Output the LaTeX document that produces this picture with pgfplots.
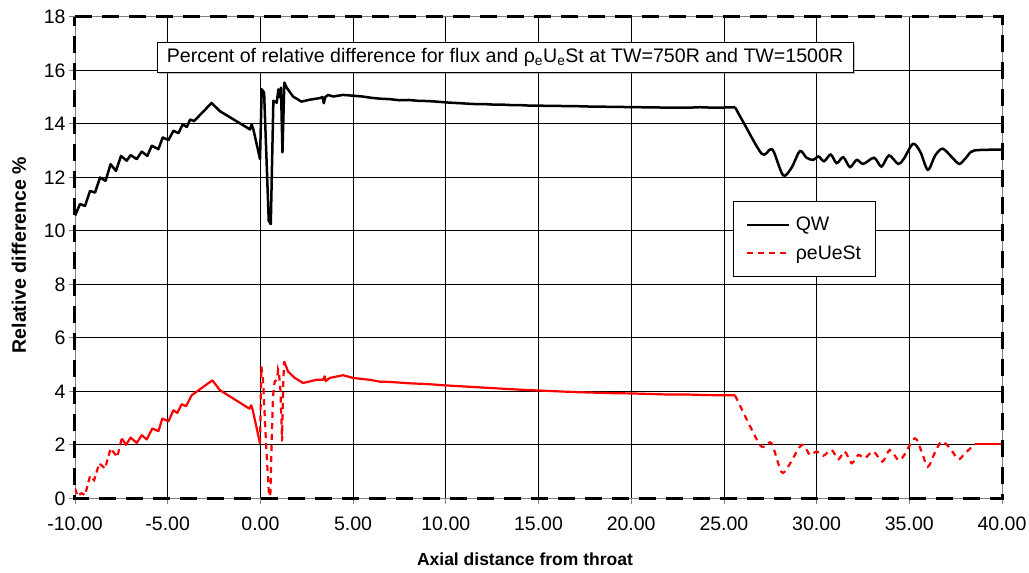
\documentclass[border=0pt]{standalone}
\usepackage{pgfplots}
\pgfplotsset{compat=1.18}
\usepackage{fontspec}
\setmainfont{Liberation Sans}
\usetikzlibrary{shadows}
\definecolor{qwred}{RGB}{255,0,0}
\begin{document}
\begin{tikzpicture}
\path[use as bounding box] (-75pt,-74.7pt) rectangle (954pt,498.3pt);
\begin{axis}[
  at={(0pt,0pt)}, anchor=south west, scale only axis,
  width=927pt, height=481.5pt,
  xmin=-10, xmax=40, ymin=0, ymax=18,
  xtick={-10,-5,0,5,10,15,20,25,30,35,40},
  xticklabels={-10.00,-5.00,0.00,5.00,10.00,15.00,20.00,25.00,30.00,35.00,40.00},
  ytick={0,2,4,6,8,10,12,14,16,18},
  yticklabels={0,2,4,6,8,10,12,14,16,18},
  grid=major, major grid style={black, line width=0.7pt},
  axis line style={gray, line width=0.7pt},
  tick style={gray, line width=0.7pt}, tick align=outside, major tick length=6pt,
  xtick pos=bottom, ytick pos=left,
  ticklabel style={font=\fontsize{19.5}{22}\selectfont},
  xticklabel style={yshift=-9pt},
  xlabel={\textbf{Axial distance from throat}},
  ylabel={\textbf{Relative difference \%}},
  xlabel style={at={(axis description cs:0.4854,-0.1261)}, anchor=center, font=\fontsize{17.5}{20}\selectfont},
  ylabel style={at={(axis description cs:-0.0604,0.505)}, anchor=center, font=\fontsize{19.5}{22}\selectfont},
  legend style={at={(rel axis cs:0.7098,0.6175)}, anchor=north west, draw=black, line width=0.7pt,
    font=\fontsize{19.5}{22}\selectfont, inner xsep=12pt, inner ysep=14pt, row sep=9pt},
  legend cell align=left,
  legend image code/.code={\draw[#1] (0pt,0pt) -- (42pt,0pt); \path (46pt,0pt);},
]
% QW part A
\addplot[black, line width=2.5pt, line join=round] coordinates {
(-10,10.56) (-9.73,11.0) (-9.46,10.93) (-9.19,11.49) (-8.92,11.43) (-8.65,11.99) (-8.35,11.87)
(-8.08,12.49) (-7.79,12.24) (-7.52,12.80) (-7.21,12.62) (-7.0,12.83) (-6.67,12.68) (-6.40,12.96)
(-6.10,12.80) (-5.86,13.18) (-5.50,13.05) (-5.27,13.49) (-4.96,13.39) (-4.69,13.74) (-4.42,13.65)
(-4.19,13.98) (-3.97,13.88) (-3.79,14.16) (-3.58,14.10) (-2.63,14.78) (-2.18,14.47) (-0.56,13.79)
(-0.47,13.98) (-0.38,13.79) (-0.02,12.68) (0.07,15.29) (0.20,15.17) (0.45,10.37) (0.56,10.25)
(0.70,14.86) (0.88,14.79) (0.97,15.29) (1.06,14.98) (1.11,15.35) (1.19,12.93) (1.29,15.54)
(1.42,15.35) (1.76,15.02) (2.21,14.83) (2.66,14.90) (3.2,14.96) (3.35,15.0) (3.42,14.77) (3.5,15.0)
(3.65,15.08) (3.92,15.02) (4.46,15.08) (5.0,15.05) (5.5,15.02) (6.0,14.97) (6.44,14.94) (7,14.92)
(7.5,14.88) (8,14.89) (8.5,14.86) (9,14.85) (9.5,14.83) (10,14.80) (10.5,14.78) (11,14.76)
(11.5,14.74) (12,14.74) (12.5,14.72) (13,14.72) (13.5,14.70) (14,14.70) (14.5,14.68) (15,14.68)
(15.5,14.67) (16,14.67) (16.5,14.66) (17,14.66) (17.5,14.65) (18,14.64) (18.5,14.64) (19,14.63)
(19.5,14.63) (20,14.62) (20.5,14.62) (21,14.61) (21.5,14.61) (22,14.60) (22.5,14.60) (23,14.60)
(23.7,14.62) (24.5,14.60) (25.6,14.62)
};
\addlegendentry{QW}
% QW part B
\addplot[black, line width=2.5pt, smooth, tension=0.5, forget plot] coordinates {
(25.6,14.62) (26.05,14.06) (27.04,12.88) (27.49,13.04) (27.7,12.94) (28.2,12.07) (28.65,12.36)
(29.1,12.98) (29.46,12.73) (29.82,12.65) (30.1,12.78) (30.4,12.6) (30.76,12.85) (31.08,12.53)
(31.44,12.75) (31.8,12.38) (32.16,12.65) (32.52,12.5) (33.1,12.73) (33.5,12.4) (33.9,12.82)
(34.4,12.5) (34.7,12.69) (35.2,13.25) (35.6,12.94) (36.0,12.28) (36.4,12.82) (36.8,13.07)
(37.3,12.75) (37.7,12.5) (38.06,12.73) (38.5,13.0) (40.0,13.03)
};
% red dashed spikes (legend)
\addplot[qwred, line width=2.2pt, dash pattern=on 6pt off 5pt] coordinates {
(-0.02,2.05) (0.05,4.93) (0.14,4.44) (0.32,1.82) (0.47,0.07) (0.54,0.2) (0.59,1.69) (0.68,3.81)
(0.77,4.37) (0.9,4.43) (0.95,4.81) (1.0,4.68) (1.08,4.06) (1.17,2.13) (1.22,4.06) (1.28,5.12)
};
\addlegendentry{ρeUeSt}
\addplot[qwred, line width=2.2pt, dash pattern=on 6pt off 4pt, forget plot] coordinates {
(-10,0.37) (-9.86,0.09) (-9.64,0.19) (-9.46,0.12) (-9.19,0.83) (-8.97,0.68) (-8.69,1.3)
(-8.38,1.12) (-8.08,1.86) (-7.72,1.55) (-7.48,2.24)
};
\addplot[qwred, line width=2.2pt, line join=round, forget plot] coordinates {
(-7.48,2.24) (-7.25,2.0) (-7.0,2.27) (-6.67,2.07) (-6.40,2.36) (-6.13,2.2) (-5.83,2.61) (-5.50,2.51)
(-5.29,2.98) (-4.96,2.88) (-4.69,3.29) (-4.48,3.19) (-4.24,3.52) (-4.01,3.44) (-3.71,3.85)
(-2.59,4.41) (-2.18,4.04) (-0.59,3.35) (-0.50,3.48) (-0.41,3.29) (-0.02,2.05)
};
\addplot[qwred, line width=2.2pt, line join=round, forget plot] coordinates {
(1.28,5.12) (1.49,4.74) (1.85,4.5) (2.3,4.31) (3.02,4.43) (3.38,4.43) (3.47,4.56) (3.52,4.38)
(3.74,4.5) (4.46,4.6) (5.0,4.5) (6.0,4.42) (6.44,4.36) (7,4.35) (8,4.3) (9,4.27) (10,4.22)
(11,4.18) (12,4.14) (13,4.1) (14,4.06) (15,4.03) (16,4.0) (17,3.97) (18,3.95) (19,3.93)
(20,3.92) (21,3.9) (22,3.88) (23,3.88) (24,3.86) (25,3.85) (25.6,3.85)
};
\addplot[qwred, line width=2.2pt, smooth, tension=0.5, dash pattern=on 6pt off 5pt, forget plot] coordinates {
(25.6,3.85) (26.85,2.1) (27.2,1.93) (27.57,2.06) (28.1,0.99) (28.46,1.18) (29.2,2.0) (29.64,1.62)
(30.0,1.75) (30.36,1.59) (30.8,1.81) (31.17,1.46) (31.52,1.75) (31.89,1.31) (32.25,1.62)
(32.6,1.5) (33.06,1.75) (33.55,1.37) (33.95,1.81) (34.4,1.43) (34.67,1.56) (35.3,2.24)
(35.66,1.75) (36.0,1.18) (36.38,1.71) (36.74,2.12) (37.2,1.87) (37.64,1.46) (38.0,1.68) (38.54,2.03)
};
\addplot[qwred, line width=2.2pt, forget plot] coordinates {(38.54,2.03) (40,2.03)};
% title box
\node[draw=black, line width=0.7pt, fill=white, drop shadow={shadow xshift=2pt, shadow yshift=-2pt, fill=gray},
  minimum width=696pt, minimum height=30pt, inner sep=0pt,
  font=\fontsize{19.6}{22}\selectfont]
  at (rel axis cs:0.4639,0.9165)
  {Percent of relative difference for flux and ρ\textsubscript{e}U\textsubscript{e}St at TW=750R and TW=1500R};
\end{axis}
% dashed frame
\draw[black, line width=3pt, dash pattern=on 17pt off 10pt]
  (0pt,481.5pt) -- (927pt,481.5pt) -- (927pt,0pt) -- (0pt,0pt) -- cycle;
\end{tikzpicture}
\end{document}
